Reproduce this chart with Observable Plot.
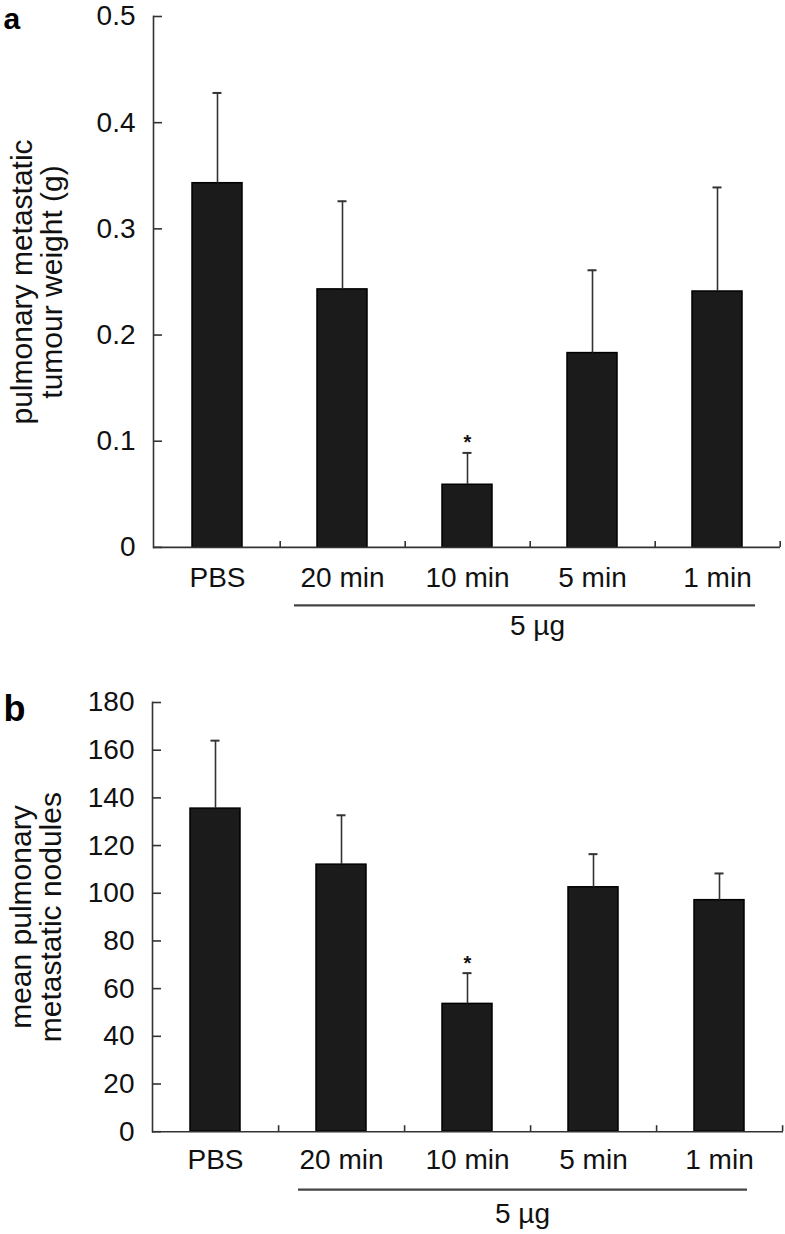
<!DOCTYPE html>
<html>
<head>
<meta charset="utf-8">
<script src="https://cdn.jsdelivr.net/npm/d3@7"></script>
<script src="https://cdn.jsdelivr.net/npm/@observablehq/plot@0.6"></script>
<style>
  html, body { margin: 0; padding: 0; background: #fff; }
  #chart { width: 785px; }
  #chart svg { display: block; }
</style>
</head>
<body>
<div id="chart"></div>
<script>
const categories = ["PBS", "20 min", "10 min", "5 min", "1 min"];
const weightMean = [0.343, 0.243, 0.059, 0.183, 0.241];
const weightErr = [0.085, 0.083, 0.030, 0.078, 0.098];
const nodulesMean = [135.5, 112.0, 53.6, 102.5, 97.1];
const nodulesErr = [28.5, 20.7, 12.9, 13.9, 11.2];
const weightTicks = [0, 0.1, 0.2, 0.3, 0.4, 0.5];
const noduleTicks = [0, 20, 40, 60, 80, 100, 120, 140, 160, 180];
const significant = ["10 min"];
const doseLabel = "5 µg";
const doseGroupStart = "20 min";
const doseGroupEnd = "1 min";

const FONT = "'Liberation Sans', Arial, Helvetica, sans-serif";
const AX = "#333";

function panel(cfg) {
  const data = categories.map((c, i) => ({cat: c, mean: cfg.mean[i], top: cfg.mean[i] + cfg.err[i]}));
  const plotW = cfg.width - cfg.marginLeft - cfg.marginRight;
  const plotH = cfg.height - cfg.marginTop - cfg.marginBottom;
  const step = plotW / categories.length;
  return Plot.plot({
    width: cfg.width,
    height: cfg.height,
    marginLeft: cfg.marginLeft,
    marginRight: cfg.marginRight,
    marginTop: cfg.marginTop,
    marginBottom: cfg.marginBottom,
    style: {fontFamily: FONT, fontSize: "28px", color: "#111", background: "#fff", overflow: "visible"},
    x: {domain: categories, paddingInner: 0.6, paddingOuter: 0.3, axis: null},
    y: {domain: [cfg.ticks[0], cfg.ticks[cfg.ticks.length - 1]], axis: null},
    marks: [
      Plot.barY(data, {x: "cat", y: "mean", fill: "#1b1b1b", stroke: "#000", strokeWidth: 1.5}),
      Plot.ruleX(data, {x: "cat", y1: "mean", y2: "top", stroke: AX, strokeWidth: 1.6}),
      Plot.tickY(data, {x: "cat", y: "top", stroke: AX, strokeWidth: 2, inset: 20.5}),
      Plot.text(data.filter(d => significant.includes(d.cat)), {x: "cat", y: "top", text: () => "*", fontSize: 20, fontWeight: "bold", dy: cfg.starDy, fill: "#111"}),
      Plot.frame({anchor: "left", stroke: AX, strokeWidth: 1.6}),
      Plot.ruleY([cfg.ticks[0]], {stroke: AX, strokeWidth: 1.6}),
      Plot.tickY(cfg.ticks, {y: d => d, insetRight: plotW - 9, stroke: AX, strokeWidth: 1.6}),
      Plot.tickX(categories, {x: d => d, dx: step / 2, insetTop: plotH - 6, stroke: AX, strokeWidth: 1.6}),
      Plot.axisY({ticks: cfg.ticks, tickFormat: d => String(d), tickSize: 0, tickPadding: 18, label: null, fontSize: 28, fill: "#111"}),
      Plot.axisX({tickSize: 0, tickPadding: cfg.xPad, label: null, fontSize: 28, fill: "#111"}),
      Plot.text([cfg.label], {frameAnchor: "left", rotate: -90, dx: cfg.labelDx, lineHeight: 1.0, fontSize: 30, fill: "#111", textAnchor: "middle", lineAnchor: "middle"}),
      Plot.ruleY([cfg.ticks[0]], {x1: () => doseGroupStart, x2: () => doseGroupEnd, dy: cfg.lineDy, insetLeft: cfg.lineInsetL, insetRight: cfg.lineInsetR, stroke: "#444", strokeWidth: 2.2}),
      Plot.text([doseLabel], {x: () => "10 min", y: () => cfg.ticks[0], dx: cfg.doseDx, dy: cfg.doseDy, fontSize: 28, fill: "#111"}),
      Plot.text([cfg.letter], {frameAnchor: "top-left", dx: 3 - cfg.marginLeft, dy: cfg.letterDy, fontSize: cfg.letterSize, fontWeight: "bold", fill: "#000", textAnchor: "start", lineAnchor: "middle"})
    ]
  });
}

const chart = document.getElementById("chart");
chart.appendChild(panel({
  letter: "a", mean: weightMean, err: weightErr, ticks: weightTicks,
  label: "pulmonary metastatic\ntumour weight (g)",
  width: 785, height: 650, marginLeft: 153, marginRight: 5, marginTop: 16, marginBottom: 103.1,
  xPad: 20, labelDx: -116, starDy: -10, lineDy: 58, lineInsetL: -23, lineInsetR: -13,
  doseDx: 70, doseDy: 79, letterDy: 2.4, letterSize: 30
}));
chart.appendChild(panel({
  letter: "b", mean: nodulesMean, err: nodulesErr, ticks: noduleTicks,
  label: "mean pulmonary\nmetastatic nodules",
  width: 785, height: 584, marginLeft: 152, marginRight: 2, marginTop: 52, marginBottom: 102.8,
  xPad: 17, labelDx: -116, starDy: -10, lineDy: 58, lineInsetL: -18, lineInsetR: -3,
  doseDx: 55, doseDy: 82, letterDy: 6.5, letterSize: 36
}));
</script>
</body>
</html>
